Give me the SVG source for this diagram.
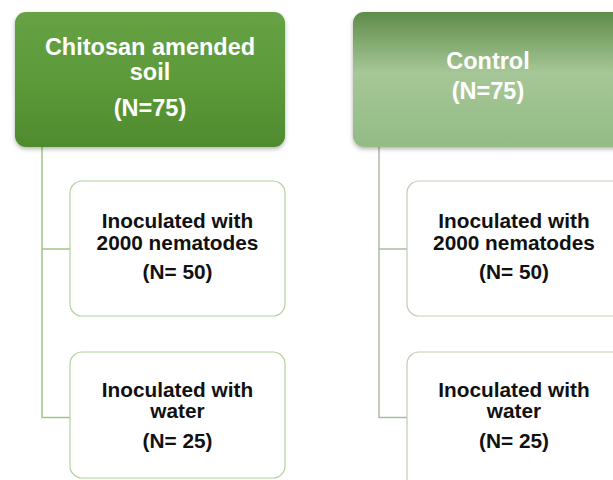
<svg xmlns="http://www.w3.org/2000/svg" width="613" height="480" viewBox="0 0 613 480">
<defs>
<linearGradient id="gL" x1="0" y1="0" x2="0" y2="1">
<stop offset="0" stop-color="#67a245"/>
<stop offset="0.5" stop-color="#5c9a3a"/>
<stop offset="1" stop-color="#4f8b2e"/>
</linearGradient>
<linearGradient id="gR" x1="0" y1="0" x2="0" y2="1">
<stop offset="0" stop-color="#5e8c49"/>
<stop offset="0.45" stop-color="#a6c797"/>
<stop offset="1" stop-color="#93bb84"/>
</linearGradient>
<filter id="sh" x="-10%" y="-10%" width="120%" height="130%">
<feDropShadow dx="0" dy="2" stdDeviation="2" flood-color="#000" flood-opacity="0.3"/>
</filter>
</defs>
<style>
.top{font-family:"Liberation Sans",Arial,sans-serif;font-weight:bold;font-size:23.5px;fill:#fff;text-anchor:middle}
.ch{font-family:"Liberation Sans",Arial,sans-serif;font-weight:bold;font-size:20.8px;fill:#111;text-anchor:middle}
.cbL{fill:#fff;stroke:#b2d29c;stroke-width:1.2}
.cbR{fill:#fff;stroke:#bfcdb6;stroke-width:1.2}
.lnL{fill:none;stroke:#9fc585;stroke-width:1.5}
.lnR{fill:none;stroke:#adbca2;stroke-width:1.5}
</style>
<rect width="613" height="480" fill="#fff"/>
<g id="connectors">
<path class="lnL" d="M42 147 V417.5 H70 M42 249 H70"/>
<path class="lnR" d="M379 147 V417.5 H407 M379 249 H407"/>
</g>
<g id="chitosan">
<rect x="15" y="12" width="270" height="135" rx="11" fill="url(#gL)" filter="url(#sh)"/>
<text class="top" x="150" y="55">Chitosan amended</text>
<text class="top" x="150" y="80">soil</text>
<text class="top" x="150" y="116">(N=75)</text>
</g>
<g id="control">
<rect x="353" y="12" width="275" height="135" rx="11" fill="url(#gR)" filter="url(#sh)"/>
<text class="top" x="488" y="69">Control</text>
<text class="top" x="488" y="99">(N=75)</text>
</g>
<g id="chitosan-nematodes">
<rect class="cbL" x="70" y="181" width="215" height="135" rx="12"/>
<text class="ch" x="177.5" y="228">Inoculated with</text>
<text class="ch" x="177.5" y="249.5">2000 nematodes</text>
<text class="ch" x="177.5" y="279">(N= 50)</text>
</g>
<g id="chitosan-water">
<rect class="cbL" x="70" y="352" width="215" height="126" rx="12"/>
<text class="ch" x="177.5" y="397">Inoculated with</text>
<text class="ch" x="177.5" y="418">water</text>
<text class="ch" x="177.5" y="448">(N= 25)</text>
</g>
<g id="control-nematodes">
<rect class="cbR" x="407" y="181" width="220" height="135" rx="12"/>
<text class="ch" x="514" y="228">Inoculated with</text>
<text class="ch" x="514" y="249.5">2000 nematodes</text>
<text class="ch" x="514" y="279">(N= 50)</text>
</g>
<g id="control-water">
<rect class="cbR" x="407" y="352" width="220" height="140" rx="12"/>
<text class="ch" x="514" y="397">Inoculated with</text>
<text class="ch" x="514" y="418">water</text>
<text class="ch" x="514" y="448">(N= 25)</text>
</g>
</svg>
